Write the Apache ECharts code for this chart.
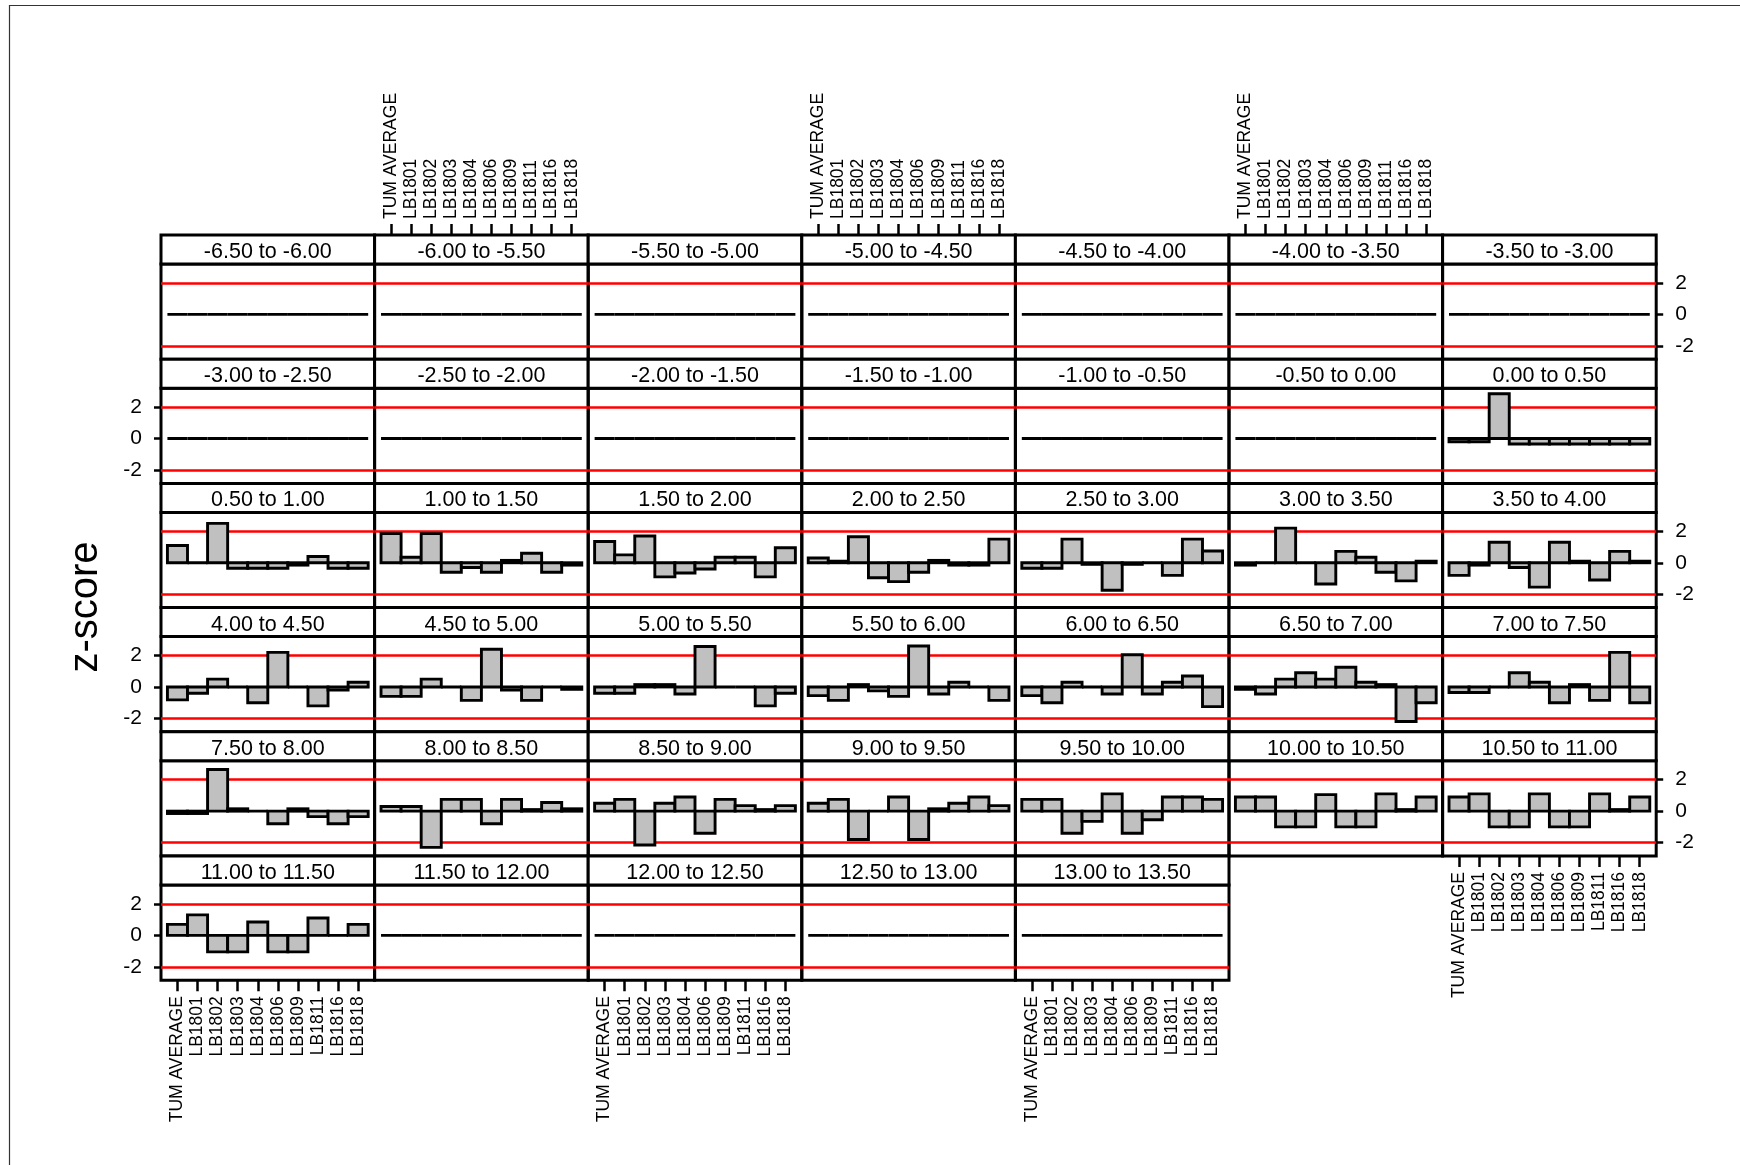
<!DOCTYPE html>
<html>
<head>
<meta charset="utf-8">
<title>z-score panels</title>
<script src="https://cdn.jsdelivr.net/npm/echarts@6/dist/echarts.min.js"></script>
<style>
  html, body { margin: 0; padding: 0; background: #fff; }
  #chart { width: 1740px; height: 1165px; }
</style>
</head>
<body>
<div id="chart"></div>
<script>
// Samples shown along the x axis of every panel
const categories = ['TUM AVERAGE', 'LB1801', 'LB1802', 'LB1803', 'LB1804',
                    'LB1806', 'LB1809', 'LB1811', 'LB1816', 'LB1818'];

// One panel per bin
const binLabels = [
  '-6.50 to -6.00', '-6.00 to -5.50', '-5.50 to -5.00', '-5.00 to -4.50', '-4.50 to -4.00', '-4.00 to -3.50', '-3.50 to -3.00',
  '-3.00 to -2.50', '-2.50 to -2.00', '-2.00 to -1.50', '-1.50 to -1.00', '-1.00 to -0.50', '-0.50 to 0.00', '0.00 to 0.50',
  '0.50 to 1.00', '1.00 to 1.50', '1.50 to 2.00', '2.00 to 2.50', '2.50 to 3.00', '3.00 to 3.50', '3.50 to 4.00',
  '4.00 to 4.50', '4.50 to 5.00', '5.00 to 5.50', '5.50 to 6.00', '6.00 to 6.50', '6.50 to 7.00', '7.00 to 7.50',
  '7.50 to 8.00', '8.00 to 8.50', '8.50 to 9.00', '9.00 to 9.50', '9.50 to 10.00', '10.00 to 10.50', '10.50 to 11.00',
  '11.00 to 11.50', '11.50 to 12.00', '12.00 to 12.50', '12.50 to 13.00', '13.00 to 13.50'
];

// z-score of each sample, one list per bin (same order as binLabels)
const zScores = [
  [0, 0, 0, 0, 0, 0, 0, 0, 0, 0],                                   // -6.50 to -6.00
  [0, 0, 0, 0, 0, 0, 0, 0, 0, 0],                                   // -6.00 to -5.50
  [0, 0, 0, 0, 0, 0, 0, 0, 0, 0],                                   // -5.50 to -5.00
  [0, 0, 0, 0, 0, 0, 0, 0, 0, 0],                                   // -5.00 to -4.50
  [0, 0, 0, 0, 0, 0, 0, 0, 0, 0],                                   // -4.50 to -4.00
  [0, 0, 0, 0, 0, 0, 0, 0, 0, 0],                                   // -4.00 to -3.50
  [0, 0, 0, 0, 0, 0, 0, 0, 0, 0],                                   // -3.50 to -3.00
  [0, 0, 0, 0, 0, 0, 0, 0, 0, 0],                                   // -3.00 to -2.50
  [0, 0, 0, 0, 0, 0, 0, 0, 0, 0],                                   // -2.50 to -2.00
  [0, 0, 0, 0, 0, 0, 0, 0, 0, 0],                                   // -2.00 to -1.50
  [0, 0, 0, 0, 0, 0, 0, 0, 0, 0],                                   // -1.50 to -1.00
  [0, 0, 0, 0, 0, 0, 0, 0, 0, 0],                                   // -1.00 to -0.50
  [0, 0, 0, 0, 0, 0, 0, 0, 0, 0],                                   // -0.50 to 0.00
  [-0.2, -0.2, 2.85, -0.35, -0.35, -0.35, -0.35, -0.35, -0.35, -0.35], // 0.00 to 0.50
  [1.1, 0, 2.5, -0.35, -0.35, -0.35, -0.15, 0.4, -0.35, -0.35],     // 0.50 to 1.00
  [1.85, 0.35, 1.85, -0.6, -0.3, -0.6, 0.15, 0.6, -0.6, -0.15],     // 1.00 to 1.50
  [1.35, 0.5, 1.7, -0.9, -0.65, -0.4, 0.35, 0.35, -0.9, 0.95],      // 1.50 to 2.00
  [0.3, 0.1, 1.65, -0.95, -1.2, -0.6, 0.15, -0.15, -0.15, 1.5],     // 2.00 to 2.50
  [-0.35, -0.35, 1.5, -0.1, -1.75, -0.1, 0, -0.8, 1.5, 0.75],       // 2.50 to 3.00
  [-0.15, 0, 2.2, 0, -1.35, 0.72, 0.35, -0.6, -1.15, 0.1],          // 3.00 to 3.50
  [-0.8, -0.15, 1.3, -0.3, -1.55, 1.3, 0.1, -1.1, 0.72, 0.1],       // 3.50 to 4.00
  [-0.82, -0.4, 0.5, 0, -1.0, 2.2, 0, -1.2, -0.2, 0.3],             // 4.00 to 4.50
  [-0.6, -0.6, 0.5, 0, -0.85, 2.4, -0.2, -0.85, 0, -0.15],          // 4.50 to 5.00
  [-0.4, -0.4, 0.15, 0.15, -0.45, 2.57, 0, 0, -1.2, -0.4],          // 5.00 to 5.50
  [-0.55, -0.85, 0.15, -0.25, -0.6, 2.6, -0.45, 0.3, 0, -0.85],     // 5.50 to 6.00
  [-0.55, -1.0, 0.3, 0, -0.45, 2.05, -0.45, 0.3, 0.7, -1.25],       // 6.00 to 6.50
  [-0.15, -0.45, 0.5, 0.9, 0.5, 1.25, 0.3, 0.15, -2.2, -1.0],       // 6.50 to 7.00
  [-0.35, -0.35, 0, 0.9, 0.3, -1.0, 0.15, -0.85, 2.2, -1.0],        // 7.00 to 7.50
  [-0.15, -0.15, 2.65, 0.15, 0, -0.8, 0.15, -0.35, -0.8, -0.35],    // 7.50 to 8.00
  [0.3, 0.3, -2.3, 0.75, 0.75, -0.8, 0.75, 0.1, 0.55, 0.15],        // 8.00 to 8.50
  [0.5, 0.75, -2.15, 0.5, 0.9, -1.4, 0.75, 0.35, 0.1, 0.35],        // 8.50 to 9.00
  [0.5, 0.75, -1.8, 0, 0.9, -1.8, 0.15, 0.5, 0.9, 0.35],            // 9.00 to 9.50
  [0.75, 0.75, -1.4, -0.65, 1.1, -1.4, -0.55, 0.9, 0.9, 0.75],      // 9.50 to 10.00
  [0.9, 0.9, -1.0, -1.0, 1.05, -1.0, -1.0, 1.1, 0.1, 0.9],          // 10.00 to 10.50
  [0.9, 1.1, -1.0, -1.0, 1.1, -1.0, -1.0, 1.1, 0.1, 0.9],           // 10.50 to 11.00
  [0.7, 1.3, -1.05, -1.05, 0.85, -1.05, -1.05, 1.1, 0, 0.7],        // 11.00 to 11.50
  [0, 0, 0, 0, 0, 0, 0, 0, 0, 0],                                   // 11.50 to 12.00
  [0, 0, 0, 0, 0, 0, 0, 0, 0, 0],                                   // 12.00 to 12.50
  [0, 0, 0, 0, 0, 0, 0, 0, 0, 0],                                   // 12.50 to 13.00
  [0, 0, 0, 0, 0, 0, 0, 0, 0, 0]                                    // 13.00 to 13.50
];

// Reference levels and y ticks
const refLevels = [2, -2];
const yTicks = [-2, 0, 2];

// Which panels carry the outer axes
const topAxisPanels = [1, 3, 5];
const bottomAxisPanels = [34, 35, 37, 39];
const rightAxisPanels = [6, 20, 34];
const leftAxisPanels = [7, 21, 35];

// Lattice geometry
const NCOL = 7;
const LEFT0 = 161, TOP0 = 235;
const COL_W = 213.6, ROW_H = 124.2, STRIP_H = 29;
const X_MIN = -0.82, X_MAX = 9.82;
const Y_MIN = -2.85, Y_MAX = 3.2;
const FONT = '"Liberation Sans", Arial, sans-serif';

const tickIdx = categories.map((_, i) => i);

// Adjacent bars: each one spans its category slot and rises from zero
function renderBar(params, api) {
  const i = api.value(0), v = api.value(1);
  const a = api.coord([i - 0.5, 0]);
  const b = api.coord([i + 0.5, v]);
  return {
    type: 'rect',
    shape: { x: a[0], y: Math.min(a[1], b[1]), width: b[0] - a[0], height: Math.abs(b[1] - a[1]) },
    style: { fill: '#c0c0c0', stroke: '#000', lineWidth: 2.9 }
  };
}

const grids = [], xAxes = [], yAxes = [], series = [], graphics = [];

zScores.forEach((vals, p) => {
  const r = Math.floor(p / NCOL), c = p % NCOL;
  const left = LEFT0 + c * COL_W;
  const top = TOP0 + r * ROW_H;

  grids.push({
    left: left, top: top + STRIP_H, width: COL_W, height: ROW_H - STRIP_H,
    show: true, borderColor: '#000', borderWidth: 3, backgroundColor: 'transparent'
  });

  const isTop = topAxisPanels.includes(p);
  const isBottom = bottomAxisPanels.includes(p);
  const hasX = isTop || isBottom;
  xAxes.push({
    gridIndex: p, type: 'value', min: X_MIN, max: X_MAX,
    position: isTop ? 'top' : 'bottom',
    offset: isTop ? STRIP_H : 0,
    axisLine: { show: false, onZero: false },
    splitLine: { show: false },
    axisTick: { show: hasX, customValues: tickIdx, length: 11, lineStyle: { color: '#000', width: 2.5 } },
    axisLabel: {
      show: hasX, customValues: tickIdx, rotate: isTop ? -90 : 90, margin: 16,
      formatter: v => categories[Math.round(v)] || '',
      fontSize: 17.5, color: '#000', fontFamily: FONT
    }
  });

  const side = rightAxisPanels.includes(p) ? 'right' : (leftAxisPanels.includes(p) ? 'left' : null);
  yAxes.push({
    gridIndex: p, type: 'value', min: Y_MIN, max: Y_MAX,
    position: side || 'left',
    axisLine: { show: false, onZero: false },
    splitLine: { show: false },
    axisTick: { show: !!side, customValues: yTicks, length: 7, lineStyle: { color: '#000', width: 2.5 } },
    axisLabel: { show: !!side, customValues: yTicks, margin: 19, fontSize: 21, color: '#000', fontFamily: FONT }
  });

  series.push({
    type: 'custom', xAxisIndex: p, yAxisIndex: p,
    data: vals.map((v, i) => [i, v]),
    encode: { x: 0, y: 1 },
    renderItem: renderBar,
    z: 10,
    markLine: {
      z: 1, silent: true, symbol: ['none', 'none'],
      label: { show: false },
      lineStyle: { color: '#ff0000', width: 2.5, type: 'solid' },
      emphasis: { disabled: true },
      data: refLevels.map(v => ({ yAxis: v }))
    }
  });

  // strip with the bin label
  graphics.push({
    type: 'rect', z: 20,
    shape: { x: left, y: top, width: COL_W, height: STRIP_H },
    style: { fill: '#fff', stroke: '#000', lineWidth: 3 }
  });
  graphics.push({
    type: 'text', z: 21,
    x: left + COL_W / 2, y: top + STRIP_H / 2 + 2.5,
    style: { text: binLabels[p], fontSize: 21.5, fontFamily: FONT, fill: '#000', align: 'center', verticalAlign: 'middle' }
  });
});

// outer frame
graphics.push({
  type: 'rect', z: 0,
  shape: { x: 9.5, y: 5.5, width: 1800, height: 1200 },
  style: { fill: 'none', stroke: '#333', lineWidth: 1.2 }
});

// shared y-axis title
graphics.push({
  type: 'text', z: 21,
  x: 86, y: 607, rotation: Math.PI / 2,
  style: { text: 'z-score', fontSize: 40, fontFamily: FONT, fill: '#000', align: 'center', verticalAlign: 'middle' }
});

const chart = echarts.init(document.getElementById('chart'), null, { renderer: 'canvas' });
chart.setOption({
  animation: false,
  backgroundColor: '#fff',
  grid: grids,
  xAxis: xAxes,
  yAxis: yAxes,
  series: series,
  graphic: { elements: graphics }
});
</script>
</body>
</html>
